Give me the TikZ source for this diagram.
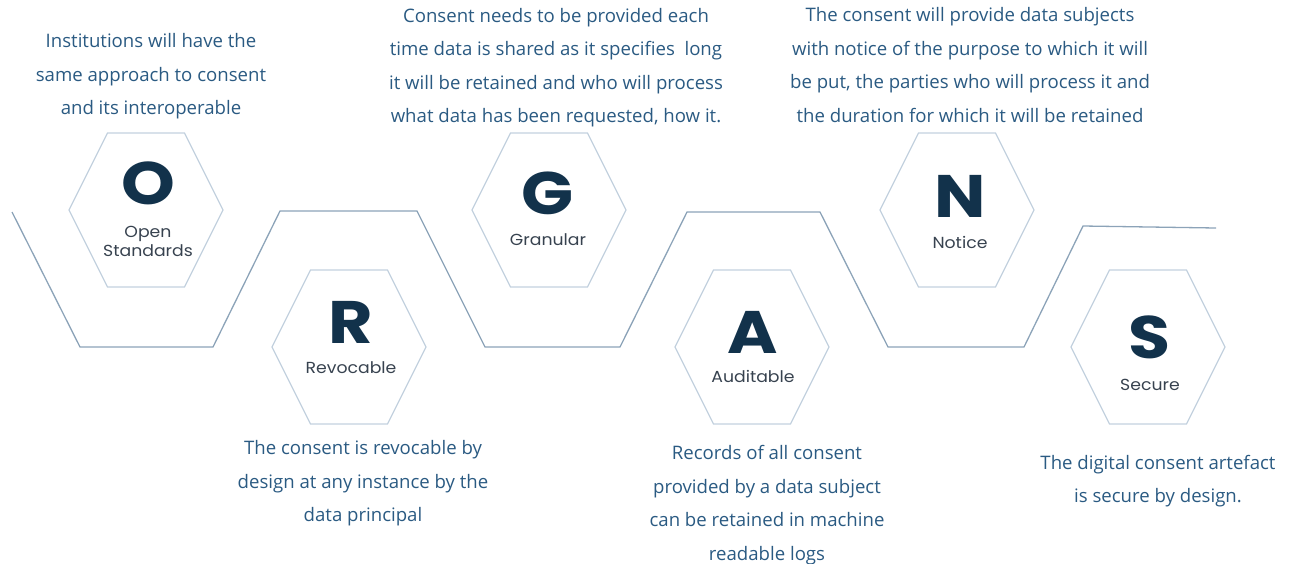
\documentclass[tikz,border=0pt]{standalone}
\usepackage{fontspec}
\setmainfont{Open Sans}
\newfontfamily\letterfont{Poppins}[UprightFont=* Bold, FakeStretch=1.14]
\newfontfamily\labelfont{Poppins}[FakeStretch=1.08]
\usetikzlibrary{calc}
\definecolor{bodyblue}{HTML}{2A5A82}
\definecolor{navy}{HTML}{12324B}
\definecolor{labelgrey}{HTML}{37424F}
\definecolor{hexline}{HTML}{C3D1DE}
\definecolor{zigline}{HTML}{8CA3B8}
\tikzset{
  hexagon/.pic={\draw[hexline,line width=1.2pt] (-77,0) -- (-38.5,-77) -- (38.5,-77) -- (77,0) -- (38.5,77) -- (-38.5,77) -- cycle;},
  bigletter/.style={font=\letterfont\fontsize{60}{60}\selectfont, text=navy, inner sep=0pt},
  hexlabel/.style={font=\labelfont\fontsize{16}{19}\selectfont, text=labelgrey, align=center, inner sep=0pt},
  desc/.style={font=\fontsize{18.6}{33.5}\selectfont, text=bodyblue, align=center, inner sep=0pt},
}
\begin{document}
\begin{tikzpicture}[x=1pt,y=-1pt]
\useasboundingbox (0,0) rectangle (1290,563);
% zigzag band
\draw[zigline,line width=1.3pt,line join=miter]
  (12,212) -- (80,347) -- (213,347) -- (280,211) -- (417,211) -- (485,347)
  -- (620,347) -- (687,212) -- (820,212) -- (888,347) -- (1024,347)
  -- (1083,226) -- (1216,228);
% hexagons
\pic at (146,210) {hexagon};
\pic at (349,347) {hexagon};
\pic at (549,210) {hexagon};
\pic at (752,347) {hexagon};
\pic at (957,210) {hexagon};
\pic at (1148,347) {hexagon};
% letters
\node[bigletter] (lO) at (148,183) {O};
\node[bigletter] (lR) at (351,322) {R};
\node[bigletter] (lG) at (548,193) {G};
\node[bigletter] (lA) at (753,332) {A};
\node[bigletter] (lN) at (960,196) {N};
\node[bigletter] (lS) at (1150,337) {S};
% labels
\node[hexlabel] (tO) at (148,241) {Open\\Standards};
\node[hexlabel] (tR) at (351,368) {Revocable};
\node[hexlabel] (tG) at (548,240) {Granular};
\node[hexlabel] (tA) at (753,376) {Auditable};
\node[hexlabel] (tN) at (960,242) {Notice};
\node[hexlabel] (tS) at (1150,385) {Secure};
% descriptions
\node[desc] (dO) at (151,76.5) {Institutions will have the\\same approach to consent\\and its interoperable};
\node[desc] (dG) at (556,67.5) {Consent needs to be provided each\\time data is shared as it specifies\ \ long\\it will be retained and who will process\\what data has been requested, how it.};
\node[desc] (dN) at (970,65) {The consent will provide data subjects\\with notice of the purpose to which it will\\be put, the parties who will process it and\\the duration for which it will be retained};
\node[desc] (dR) at (363,483.5) {The consent is revocable by\\design at any instance by the\\data principal};
\node[desc] (dA) at (767,505) {Records of all consent\\provided by a data subject\\can be retained in machine\\readable logs};
\node[desc] (dS) at (1158,481) {The digital consent artefact\\is secure by design.};
\end{tikzpicture}
\end{document}
